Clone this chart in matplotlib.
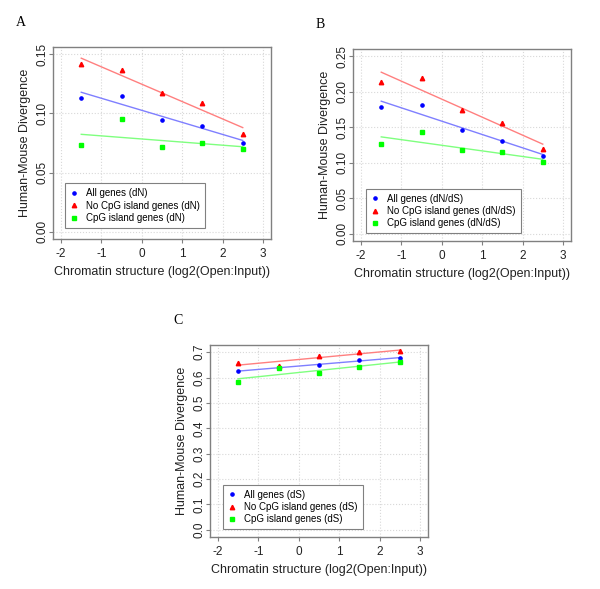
import numpy as np
import matplotlib
matplotlib.use("Agg")
import matplotlib.pyplot as plt

plt.rcParams['font.family'] = ['Liberation Sans', 'DejaVu Sans']
plt.rcParams['axes.unicode_minus'] = False

x = [-1.5, -0.5, 0.5, 1.5, 2.5]

# panel A: dN
a_all = [0.1133, 0.1150, 0.0944, 0.0894, 0.0753]
a_nocpg = [0.1415, 0.1365, 0.1176, 0.1085, 0.0823]
a_cpg = [0.0733, 0.0953, 0.0713, 0.0753, 0.0702]

# panel B: dN/dS
b_all = [0.1778, 0.1816, 0.1458, 0.1311, 0.1094]
b_nocpg = [0.2142, 0.2198, 0.1745, 0.1557, 0.1198]
b_cpg = [0.1264, 0.1434, 0.1175, 0.1146, 0.1014]

# panel C: dS
c_all = [0.626, 0.638, 0.650, 0.667, 0.678]
c_nocpg = [0.657, 0.647, 0.683, 0.701, 0.704]
c_cpg = [0.581, 0.638, 0.618, 0.641, 0.662]

panels = [
    ("A", "dN", a_all, a_nocpg, a_cpg, 0.15, [0, 0.05, 0.10, 0.15], "%.2f",
     [53, 47], (0.055, 0.057)),
    ("B", "dN/dS", b_all, b_nocpg, b_cpg, 0.25, [0, 0.05, 0.10, 0.15, 0.20, 0.25], "%.2f",
     [353, 49], (0.06, 0.04)),
    ("C", "dS", c_all, c_nocpg, c_cpg, 0.7, [0, 0.1, 0.2, 0.3, 0.4, 0.5, 0.6, 0.7], "%.1f",
     [210, 345], (0.06, 0.04)),
]

W, H = 600, 589
fig = plt.figure(figsize=(6, 5.89), dpi=100)
gray = "#808080"

for letter, tag, yall, ynocpg, ycpg, ymax, yticks, fmt, (px, py), legpos in panels:
    ax = fig.add_axes([px / W, 1 - (py + 192) / H, 218 / W, 192 / H])
    ext = ymax * 0.04
    ax.set_xlim(-2.2, 3.2)
    ax.set_ylim(-ext, ymax + ext)
    ax.set_xticks([-2, -1, 0, 1, 2, 3])
    ax.set_yticks(yticks)
    ax.set_yticklabels([fmt % v for v in yticks], rotation=90, va="center")
    ax.grid(True, color="#d8d8d8", linestyle=":", linewidth=0.8)
    ax.set_axisbelow(True)
    for s in ax.spines.values():
        s.set_color(gray)
        s.set_linewidth(1.0)
    ax.tick_params(colors=gray, labelcolor="#222222", labelsize=8.5, length=3, width=0.8)
    ax.tick_params(axis="y", pad=0.5)

    # regression lines
    xs = np.array(x)
    for ys, lc in [(ynocpg, "#ff7f7f"), (yall, "#7f7fff"), (ycpg, "#7fff7f")]:
        k, b = np.polyfit(xs, ys, 1)
        ax.plot(xs, k * xs + b, color=lc, linewidth=1.0)

    h1, = ax.plot(x, yall, "o", color="blue", markersize=2.3, linestyle="none",
                  label="All genes (%s)" % tag)
    h2, = ax.plot(x, ynocpg, "^", color="red", markersize=3.2, linestyle="none",
                  label="No CpG island genes (%s)" % tag)
    h3, = ax.plot(x, ycpg, "s", color="#00ff00", markersize=2.6, linestyle="none",
                  label="CpG island genes (%s)" % tag)

    leg = ax.legend(handles=[h1, h2, h3], loc="lower left", bbox_to_anchor=legpos,
                    borderaxespad=0, fontsize=7, fancybox=False, framealpha=1,
                    edgecolor=gray, handlelength=0.8, handletextpad=0.9,
                    labelspacing=0.25, borderpad=0.5)
    leg.get_frame().set_linewidth(0.8)

    ax.set_xlabel("Chromatin structure (log2(Open:Input))", fontsize=9, color="#222222",
                  labelpad=4)
    ax.set_ylabel("Human-Mouse Divergence", fontsize=9, color="#222222", labelpad=4)

    fig.text((px - 37) / W, 1 - (py - 25) / H, letter, fontsize=10,
             family=["Liberation Serif", "DejaVu Serif"], va="center", ha="left")

fig.savefig("out.png", dpi=100)
